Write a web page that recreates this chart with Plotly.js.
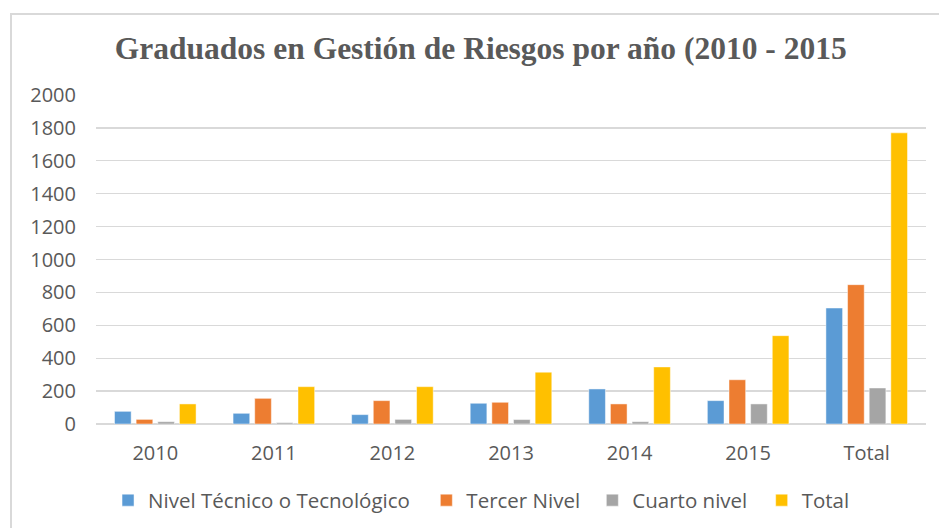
<!DOCTYPE html>
<html>
<head>
<meta charset="utf-8">
<script src="https://cdn.plot.ly/plotly-3.0.1.min.js"></script>
<style>
  html, body { margin: 0; padding: 0; background: #ffffff; overflow: hidden; }
  #wrap { position: relative; width: 939px; height: 528px; overflow: hidden; background: #ffffff; }
  #frame { position: absolute; left: 10px; top: 13px; width: 1000px; height: 600px;
           border-left: 2px solid #d9d9d9; border-top: 2px solid #d9d9d9; box-sizing: border-box; }
  #chart { position: absolute; left: 0; top: 0; width: 939px; height: 528px; }
</style>
</head>
<body>
<div id="wrap">
  <div id="frame"></div>
  <div id="chart"></div>
</div>
<script>
const categories = ["2010", "2011", "2012", "2013", "2014", "2015", "Total"];
const seriesNames = ["Nivel Técnico o Tecnológico", "Tercer Nivel", "Cuarto nivel", "Total"];
const nivelTecnico = [77, 65, 57, 126, 213, 142, 705];
const tercerNivel = [28, 156, 142, 132, 122, 269, 847];
const cuartoNivel = [14, 8, 28, 27, 14, 122, 219];
const totalSerie = [122, 227, 227, 315, 347, 537, 1770];
const colors = ["#5B9BD5", "#ED7D31", "#A5A5A5", "#FFC000"];
const titleText = "Graduados en Gestión de Riesgos por año (2010 - 2015";

const legendIds = ["legend", "legend2", "legend3", "legend4"];
const legendX = [0.0145, 0.398, 0.598, 0.802];

const seriesValues = [nivelTecnico, tercerNivel, cuartoNivel, totalSerie];
const traces = seriesValues.map((vals, i) => ({
  type: "bar",
  name: seriesNames[i],
  x: categories,
  y: vals,
  legend: legendIds[i],
  marker: { color: colors[i], line: { color: "rgba(255,255,255,0.6)", width: 0.8 } },
  hoverinfo: "x+y+name"
}));

const txt = "#595959";
const layout = {
  width: 939, height: 528,
  paper_bgcolor: "rgba(0,0,0,0)",
  plot_bgcolor: "rgba(0,0,0,0)",
  margin: { l: 96, r: 13, t: 95, b: 104, pad: 0, autoexpand: false },
  barmode: "group",
  bargap: 0.27,
  bargroupgap: 0.23,
  title: {
    text: "<b>" + titleText + "</b>",
    font: { family: "Liberation Serif, Times New Roman, serif", size: 31.5, color: txt },
    xref: "container", yref: "container",
    x: 0.512, xanchor: "center",
    y: 0.909, yanchor: "middle"
  },
  font: { family: "Open Sans, sans-serif", size: 20, color: txt },
  xaxis: {
    type: "category", automargin: false,
    showgrid: false, showline: false, zeroline: false,
    ticks: "outside", ticklen: 11, tickcolor: "rgba(0,0,0,0)",
    tickfont: { family: "Open Sans, sans-serif", size: 20, color: txt }
  },
  yaxis: {
    range: [0, 2000], dtick: 200, tick0: 0, automargin: false,
    showgrid: true, gridcolor: "#d9d9d9", gridwidth: 1.3,
    zeroline: true, zerolinecolor: "#d9d9d9", zerolinewidth: 1.3,
    showline: false,
    ticks: "outside", ticklen: 15, tickcolor: "rgba(0,0,0,0)",
    tickfont: { family: "Open Sans, sans-serif", size: 20, color: txt }
  },
  showlegend: true
};

legendIds.forEach((id, i) => {
  layout[id] = {
    orientation: "h",
    x: legendX[i], xanchor: "left",
    y: -0.232, yanchor: "middle",
    font: { family: "Open Sans, sans-serif", size: 20.5, color: txt },
    itemwidth: 30,
    bgcolor: "rgba(0,0,0,0)"
  };
});

Plotly.newPlot("chart", traces, layout, { displayModeBar: false, staticPlot: true });
</script>
</body>
</html>
